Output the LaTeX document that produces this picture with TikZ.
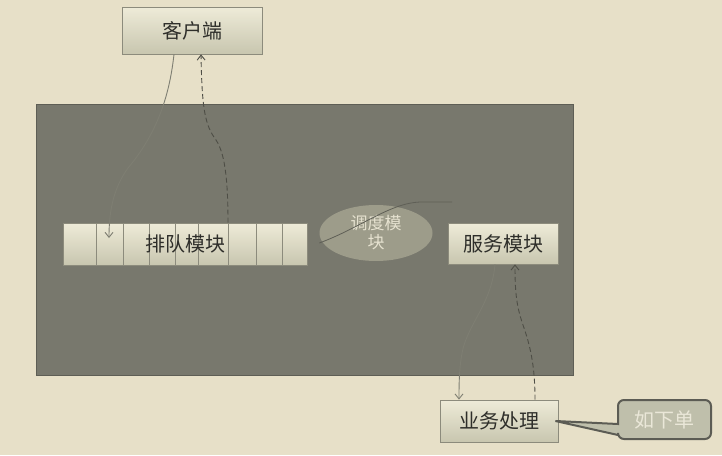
\documentclass[tikz,border=0pt]{standalone}
\usepackage{fontspec}
\setmainfont{Noto Sans CJK SC}
\usetikzlibrary{shapes.geometric,arrows.meta}
\definecolor{bg}{HTML}{E7E0C8}
\definecolor{darkrect}{HTML}{78786D}
\definecolor{darkedge}{HTML}{5E5E55}
\definecolor{boxtop}{HTML}{EEEBD8}
\definecolor{boxbot}{HTML}{C8C6AF}
\definecolor{boxedge}{HTML}{8C8B7C}
\definecolor{txt}{HTML}{2E2E2A}
\definecolor{ellfill}{HTML}{9D9C8A}
\definecolor{elltext}{HTML}{E6E2D0}
\definecolor{coutfill}{HTML}{BFBFAB}
\definecolor{coutedge}{HTML}{5C5C54}
\definecolor{couttext}{HTML}{EAE7D8}
\definecolor{solidline}{HTML}{7E7E72}
\definecolor{dashline}{HTML}{4E4E46}
\definecolor{faintline}{HTML}{5F5F56}
\tikzset{
  box/.style={draw=boxedge, line width=0.8pt, top color=boxtop, bottom color=boxbot,
    inner sep=0pt, text=txt, font=\fontsize{20}{24}\selectfont},
  divider/.style={draw=boxedge, line width=0.7pt},
  tip/.style={-{Straight Barb[length=5pt,width=8pt]}},
  solidconn/.style={tip, draw=solidline, line width=0.9pt},
  dashconn/.style={tip, draw=dashline, line width=0.9pt, dash pattern=on 5pt off 3pt},
}
\begin{document}
\begin{tikzpicture}[x=1pt,y=-1pt]
\fill[bg] (0,0) rectangle (722,455);
\useasboundingbox (0,0) rectangle (722,455);

% main dark panel
\node[draw=darkedge, fill=darkrect, line width=0.8pt, minimum width=537pt, minimum height=271pt, inner sep=0pt] (panel) at (304.5,239.5) {};

% client
\node[box, minimum width=140pt, minimum height=47pt] (client) at (192,30.5) {客户端};

% queue
\node[box, minimum width=244pt, minimum height=42pt] (queue) at (185,244) {};
\foreach \x in {96,123,149,175,198,228,256,282}
  \draw[divider] (\x,0 |- queue.north) -- (\x,0 |- queue.south);
\node[text=txt, font=\fontsize{20}{24}\selectfont, inner sep=0pt] (qlabel) at (queue.center) {排队模块};

% scheduler
\node[ellipse, fill=ellfill, minimum width=113pt, minimum height=56pt, inner sep=0pt,
  align=center, text=elltext, font=\fontsize{17}{19}\selectfont] (sched) at (376,233) {调度模\\块};

% service
\node[box, minimum width=110pt, minimum height=41pt] (serv) at (503,243.5) {服务模块};

% business
\node[box, minimum width=118pt, minimum height=42pt] (biz) at (499,421) {业务处理};

% connectors
\coordinate (qin) at (109,238);
\draw[solidconn] ([xshift=-18pt]client.south) .. controls (170,90) and (160,130) .. (128,168)
  .. controls (112,190) and (109,215) .. (qin);
\draw[dashconn] ([xshift=43pt]queue.north) .. controls (228,175) and (224,152) .. (216,140)
  .. controls (205,125) and (202,110) .. ([xshift=9pt]client.south);
\coordinate (schedend) at (452,202);
\draw[faintline, line width=0.8pt] ([yshift=-10pt]sched.west) .. controls (360,228) and (390,203) .. (420,202) -- (schedend);
\draw[solidconn] ([xshift=-8pt]serv.south) .. controls (492,300) and (472,320) .. (464,345)
  .. controls (459,362) and (459,385) .. ([xshift=-40pt]biz.north);
\draw[dashconn] ([xshift=36pt]biz.north) .. controls (535,365) and (530,345) .. (523,325)
  .. controls (516,305) and (515,290) .. ([xshift=12pt]serv.south);

% callout
\coordinate (ptip) at ([xshift=-3pt]biz.east);
\filldraw[fill=coutfill, draw=coutedge, line width=2pt, rounded corners=6pt]
  (618,400) -- (711,400) -- (711,439) -- (618,439) [sharp corners] -- (618,435) -- (ptip) -- (618,424) [rounded corners=6pt] -- cycle;
\node[text=couttext, font=\fontsize{20}{24}\selectfont, inner sep=0pt] (callout) at (664.5,419.5) {如下单};
\end{tikzpicture}
\end{document}
